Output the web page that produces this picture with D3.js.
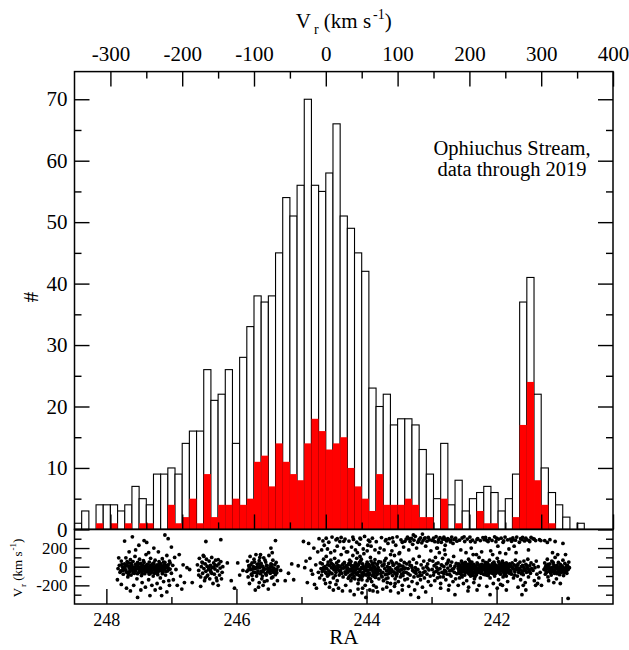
<!DOCTYPE html>
<html>
<head>
<meta charset="utf-8">
<script src="https://cdn.jsdelivr.net/npm/d3@7"></script>
<style>
  body { margin: 0; background: #fff; }
  svg { display: block; }
  text { font-family: "Liberation Serif", "Times New Roman", serif; fill: #000; }
</style>
</head>
<body>
<svg id="chart" width="629" height="650"></svg>
<script>
// Radial-velocity histogram: 10 km/s bins starting at -350 km/s
const binStart = -350;
const binWidth = 10;
const allCounts = [1,3,0,4,4,4,3,4,7,5,4,9,9,10,9,14,16,16,26,21,22,26,14,28,33,38,37,38,45,54,
  51,56,70,56,55,58,66,51,49,45,42,23,20,22,17,18,18,17,13,9,5,14,4,8,3,5,6,7,6,3,
  5,9,37,41,22,10,6,4,2,0,1,0,0,0,0];
const selectedCounts = [0,0,0,1,0,1,0,1,0,1,1,0,0,4,1,2,5,1,9,2,4,4,5,4,5,11,12,7,14,11,
  9,8,14,18,16,13,14,15,10,7,5,3,9,4,4,4,5,4,2,2,0,5,0,1,0,0,3,1,1,0,
  0,2,17,24,8,4,1,0,0,0,0,0,0,0,0];

// Tick values
const vrMajorTicks = [-300,-200,-100,0,100,200,300,400];
const vrMinorTicks = [-250,-150,-50,50,150,250,350];
const countMajorTicks = [0,10,20,30,40,50,60,70];
const countMinorTicks = [5,15,25,35,45,55,65];
const raMajorTicks = [248,246,244,242];
const raMinorTicks = [247,245,243,241];
const lowMajorTicks = [-200,0,200];
const lowMinorTicks = [-300,-100,100,300];

// Individual stars: [RA (deg), Vr (km/s)]
const stars = [
 // RA ~247.8-246.7
 [247.82,-20],[247.80,15],[247.78,-45],[247.77,60],[247.75,-5],[247.74,-80],[247.72,30],[247.71,-30],[247.70,95],[247.69,-60],
 [247.68,10],[247.67,-110],[247.66,40],[247.65,-15],[247.64,-50],[247.63,75],[247.62,-90],[247.61,20],[247.60,-35],[247.59,55],
 [247.58,-5],[247.57,-70],[247.56,110],[247.55,25],[247.54,-25],[247.53,-130],[247.52,45],[247.51,0],[247.50,-60],[247.49,80],
 [247.48,-15],[247.47,35],[247.46,-95],[247.45,-40],[247.44,15],[247.43,65],[247.42,-20],[247.41,-75],[247.40,5],[247.39,130],
 [247.38,-50],[247.37,25],[247.36,-10],[247.35,-140],[247.34,50],[247.33,-30],[247.32,90],[247.31,-65],[247.30,10],[247.29,-5],
 [247.28,-100],[247.27,40],[247.26,-35],[247.25,70],[247.24,-15],[247.23,-55],[247.22,20],[247.21,-85],[247.20,0],[247.19,55],
 [247.18,-40],[247.17,-120],[247.16,30],[247.15,-20],[247.14,85],[247.13,-60],[247.12,10],[247.11,-30],[247.10,45],[247.09,-90],
 [247.08,-5],[247.07,120],[247.06,-45],[247.05,20],[247.04,-150],[247.03,60],[247.02,-25],[247.00,-70],[246.98,15],
 [247.79,-60],[247.76,25],[247.73,-15],[247.70,-40],[247.68,55],[247.66,-85],[247.64,5],[247.62,35],[247.60,-20],[247.58,-50],
 [247.56,-10],[247.54,20],[247.52,-75],[247.50,30],[247.48,-45],[247.46,0],[247.44,-25],[247.42,45],[247.40,-55],[247.38,10],
 [247.36,-30],[247.34,-80],[247.32,15],[247.30,-45],[247.28,25],[247.26,-70],[247.24,5],[247.22,-25],[247.20,-40],[247.18,35],
 [247.16,-10],[247.14,-75],[247.12,50],[247.10,-15],[247.08,-50],[247.06,15],[247.04,-30],[247.02,40],[247.57,-30],[247.47,-5],
 [247.37,-20],[247.27,-5],[247.17,15],[247.63,-35],[247.53,10],[247.43,-35],[247.33,0],[247.23,-10],[247.13,-20],[247.74,-25],
 [247.69,20],[247.59,-65],[247.49,-30],[247.39,-10],[247.29,30],[247.19,-25],[247.09,10],
 [247.75,-40],[247.65,-60],[247.55,-45],[247.45,-70],[247.35,-60],[247.25,-45],[247.15,-45],[247.05,-10],[247.71,5],[247.61,-5],
 [247.51,-20],[247.41,-40],[247.31,-25],[247.21,-60],[247.11,-5],
 [247.83,-140],[247.81,95],[247.77,-190],[247.72,275],[247.69,-230],[247.65,160],[247.63,-260],[247.60,320],[247.58,-200],[247.55,180],
 [247.52,-330],[247.50,230],[247.47,-250],[247.45,-170],[247.42,280],[247.40,-220],[247.38,260],[247.35,150],[247.33,-310],[247.30,-200],
 [247.27,200],[247.25,-250],[247.22,-180],[247.20,160],[247.17,-230],[247.15,-310],[247.12,-160],[247.10,340],[247.07,-270],[247.05,300],
 [247.03,-200],[247.00,210],[246.97,-140],[246.95,100],
 [246.93,-30],[246.91,-200],[246.88,130],[246.86,-100],[246.84,-240],[246.82,20],[246.80,-170],[246.76,-10],[246.72,-30],[246.68,-170],
 // RA ~246.6-246.2
 [246.60,20],[246.58,-40],[246.57,90],[246.55,-110],[246.54,0],[246.53,50],[246.52,-70],[246.51,120],[246.50,-20],[246.49,-150],
 [246.48,30],[246.47,270],[246.47,-50],[246.46,80],[246.45,5],[246.44,-90],[246.43,-30],[246.42,60],[246.41,-130],[246.40,15],
 [246.39,-60],[246.38,100],[246.37,-10],[246.36,-180],[246.35,40],[246.34,-80],[246.33,-25],[246.32,70],[246.31,-120],[246.30,10],
 [246.29,-45],[246.28,-200],[246.27,30],[246.26,-90],[246.25,-15],[246.24,290],[246.24,55],[246.23,-130],[246.22,-60],[246.21,0],
 [246.55,-210],[246.50,110],[246.45,-100],[246.40,-40],[246.35,-5],[246.30,-150],[246.28,75],[246.52,40],[246.42,-10],[246.33,20],
 [246.58,-90],[246.48,-120],[246.38,-70],
 [246.14,40],[246.08,-150],[246.03,-230],[245.98,40],[245.95,-90],[245.90,-40],
 // RA ~245.85-245.35
 [245.84,-50],[245.83,60],[245.82,-110],[245.81,10],[245.80,-180],[245.79,110],[245.78,-30],[245.77,-80],[245.76,40],[245.75,-140],
 [245.74,0],[245.73,80],[245.72,-60],[245.71,-20],[245.70,130],[245.69,-100],[245.68,25],[245.67,-45],[245.66,-220],[245.65,65],
 [245.64,-10],[245.63,-75],[245.62,35],[245.61,-130],[245.60,5],[245.59,-40],[245.58,95],[245.57,-160],[245.56,-25],[245.55,50],
 [245.54,-90],[245.53,15],[245.52,-55],[245.51,-240],[245.50,120],[245.49,-15],[245.48,-70],[245.47,30],[245.46,-120],[245.45,-5],
 [245.44,70],[245.43,-40],[245.42,-190],[245.41,20],[245.40,-85],[245.39,45],[245.38,-30],[245.37,-150],[245.36,0],
 [245.82,-35],[245.78,20],[245.74,-60],[245.70,-10],[245.66,30],[245.62,-50],[245.58,-15],[245.54,10],[245.50,-45],[245.46,25],
 [245.42,-20],[245.38,-65],[245.80,-5],[245.76,-95],[245.72,50],[245.68,-70],[245.64,100],[245.60,-100],[245.56,70],[245.52,-20],
 [245.48,0],[245.44,-110],[245.40,-55],[245.71,-250],[245.65,-170],[245.59,-200],[245.53,-150],[245.47,200],[245.45,150],[245.40,280],
 [245.63,130],[245.75,-25],[245.67,-5],[245.59,-55],[245.51,-30],[245.43,-60],[245.63,10],[245.55,-75],[245.47,-40],
 [245.32,-40],[245.25,-150],[245.20,-70],[245.15,30],[245.12,-140],[245.05,10],
 // RA ~245.0-244.3
 [244.97,270],[244.95,-10],[244.93,60],[244.91,-170],[244.89,250],[244.87,90],[244.85,-40],[244.83,-80],[244.81,200],[244.80,-190],
 [244.78,20],[244.77,-230],[244.75,160],[244.74,-60],[244.73,300],[244.72,-120],[244.71,40],[244.70,-20],
 [244.69,-90],[244.68,30],[244.67,-30],[244.66,80],[244.65,-140],[244.64,0],[244.63,-60],[244.62,110],[244.61,-20],[244.60,-100],
 [244.59,50],[244.58,-45],[244.57,15],[244.56,-170],[244.55,70],[244.54,-10],[244.53,-75],[244.52,25],[244.51,-120],[244.50,-35],
 [244.49,90],[244.48,-5],[244.47,-60],[244.46,40],[244.45,-150],[244.44,-20],[244.43,60],[244.42,-90],[244.41,5],[244.40,-40],
 [244.39,130],[244.38,-70],[244.37,20],[244.36,-110],[244.35,-15],[244.34,45],[244.33,-55],[244.32,-200],[244.31,10],[244.30,-30],
 [244.68,-50],[244.64,-25],[244.60,20],[244.56,-60],[244.52,-15],[244.48,-95],[244.44,15],[244.40,-70],[244.36,30],[244.32,-80],
 [244.66,-10],[244.58,-85],[244.50,10],[244.42,-45],[244.34,-5],[244.62,-70],[244.54,35],[244.46,-30],[244.38,-15],
 [244.69,180],[244.67,276],[244.65,230],[244.62,305],[244.60,190],[244.58,262],[244.55,150],[244.53,318],[244.51,-250],[244.49,170],
 [244.47,288],[244.45,220],[244.43,-230],[244.41,270],[244.39,314],[244.37,-260],[244.35,200],[244.33,296],[244.31,160],[244.57,-220],
 [244.47,-190],[244.63,-180],[244.45,300],[244.35,272],
 // RA ~244.3-243.8
 [244.29,-60],[244.28,20],[244.27,-110],[244.26,70],[244.25,-30],[244.24,-150],[244.23,10],[244.22,-80],[244.21,120],[244.20,-40],
 [244.19,-5],[244.18,-130],[244.17,40],[244.16,-70],[244.15,90],[244.14,-20],[244.13,-180],[244.12,25],[244.11,-95],[244.10,-50],
 [244.09,60],[244.08,-10],[244.07,-140],[244.06,30],[244.05,-65],[244.04,140],[244.03,-25],[244.02,-200],[244.01,5],[244.00,-90],
 [243.99,50],[243.98,-40],[243.97,-120],[243.96,15],[243.95,-75],[243.94,100],[243.93,-15],[243.92,-160],[243.91,35],[243.90,-55],
 [243.89,-5],[243.88,-105],[243.87,75],[243.86,-30],[243.85,-220],[243.84,20],[243.83,-70],[243.82,-10],[243.81,55],
 [244.29,-15],[244.27,35],[244.25,-90],[244.23,-45],[244.21,0],[244.19,-100],[244.17,-35],[244.15,10],[244.13,-60],[244.11,45],
 [244.09,-115],[244.07,-20],[244.05,0],[244.03,-85],[244.01,-40],[243.99,-150],[243.97,25],[243.95,-35],[243.93,60],[243.91,-95],
 [243.89,-45],[243.87,-10],[243.85,-60],[243.83,30],[243.81,-130],
 [244.28,-125],[244.24,55],[244.20,-65],[244.16,-5],[244.12,-140],[244.08,80],[244.04,-55],[244.00,25],[243.96,-90],[243.92,-30],
 [243.88,40],[243.84,-85],[244.26,-45],[244.22,-120],[244.18,20],[244.14,-85],[244.10,110],[244.06,-100],[244.02,-25],[243.98,-70],
 [243.94,-130],[243.90,15],[243.86,-115],
 [244.25,25],[244.19,-55],[244.13,15],[244.07,-75],[244.01,-15],[243.95,5],[243.89,-80],[243.83,-40],[244.22,-10],[244.10,-30],
 [243.98,0],[243.86,-50],
 [244.29,160],[244.27,275],[244.25,-260],[244.23,210],[244.21,318],[244.19,-300],[244.17,180],[244.15,262],[244.13,-240],[244.11,240],
 [244.09,296],[244.07,-280],[244.05,190],[244.03,325],[244.01,-330],[243.99,170],[243.97,284],[243.95,-250],[243.93,220],[243.91,306],
 [243.89,-200],[243.87,180],[243.85,268],[243.83,-270],[243.81,150],[244.14,150],[244.06,-230],[243.98,230],[243.90,-260],[244.20,292],
 [244.10,305],[243.95,270],
 // RA ~243.8-243.4
 [243.79,-40],[243.78,50],[243.77,-100],[243.76,10],[243.75,-60],[243.74,-150],[243.73,30],[243.72,-20],[243.71,-85],[243.70,90],
 [243.69,-45],[243.68,0],[243.67,-120],[243.66,35],[243.65,-70],[243.64,-10],[243.63,-180],[243.62,60],[243.61,-35],[243.60,-95],
 [243.59,15],[243.58,-55],[243.57,120],[243.56,-130],[243.55,-20],[243.54,40],[243.53,-75],[243.52,-5],[243.51,-160],[243.50,25],
 [243.49,-50],[243.48,-110],[243.47,70],[243.46,-30],[243.45,-200],[243.44,5],[243.43,-65],[243.42,45],[243.41,-140],[243.40,-15],
 [243.78,-75],[243.74,15],[243.70,-130],[243.66,-30],[243.62,-60],[243.58,20],[243.54,-100],[243.50,-35],[243.46,-80],[243.42,-25],
 [243.76,-110],[243.72,65],[243.68,-80],[243.64,-45],[243.60,40],[243.56,-70],[243.52,-40],[243.48,10],[243.44,-95],
 [243.79,200],[243.77,312],[243.75,-240],[243.73,180],[243.71,278],[243.69,-220],[243.67,250],[243.65,300],[243.63,-260],[243.61,170],
 [243.59,266],[243.57,-210],[243.55,230],[243.53,320],[243.51,-280],[243.49,150],[243.47,288],[243.45,-250],[243.43,210],[243.41,272],
 [243.63,130],[243.50,140],[243.68,-170],[243.56,-180],[243.70,290],[243.60,310],[243.45,262],
 // RA ~243.4-243.0
 [243.39,-60],[243.38,30],[243.37,-130],[243.36,-20],[243.35,-210],[243.34,50],[243.33,-90],[243.32,-300],[243.31,10],[243.30,-160],
 [243.29,-40],[243.28,80],[243.27,-110],[243.26,-250],[243.25,-10],[243.24,-70],[243.23,40],[243.22,-180],[243.21,-30],[243.20,-330],
 [243.19,110],[243.18,-60],[243.17,-140],[243.16,20],[243.15,-90],[243.14,-220],[243.13,-15],[243.12,60],[243.11,-120],[243.10,-50],
 [243.09,-270],[243.08,0],[243.07,-80],[243.06,30],[243.05,-160],[243.04,-35],[243.03,70],[243.02,-100],[243.01,-200],
 [243.36,-75],[243.30,-10],[243.24,-40],[243.18,-95],[243.12,-60],[243.06,-15],[243.33,15],[243.27,-55],[243.21,-100],
 [243.39,296],[243.37,318],[243.35,180],[243.33,270],[243.31,304],[243.29,240],[243.27,284],[243.25,326],[243.23,200],[243.21,262],
 [243.19,292],[243.17,310],[243.15,256],[243.13,280],[243.11,300],[243.09,220],[243.07,274],[243.05,314],[243.03,288],[243.01,170],
 [243.28,340],[243.14,350],[243.35,300],[243.20,275],[243.10,310],
 // RA ~243.0-242.6
 [242.99,-30],[242.98,60],[242.97,-90],[242.96,10],[242.95,-150],[242.94,100],[242.93,-50],[242.92,-10],[242.91,-120],[242.90,40],
 [242.89,-70],[242.88,150],[242.87,-20],[242.86,-180],[242.85,20],[242.84,-60],[242.83,90],[242.82,-110],[242.81,0],[242.80,-40],
 [242.79,130],[242.78,-140],[242.77,30],[242.76,-80],[242.75,-15],[242.74,70],[242.73,-200],[242.72,-45],[242.71,10],[242.70,-100],
 [242.69,50],[242.68,-25],[242.67,-160],[242.66,110],[242.65,-60],[242.64,5],[242.63,-130],[242.62,35],[242.61,-75],
 [242.96,-60],[242.90,-30],[242.84,15],[242.78,-50],[242.72,-85],[242.66,-20],[242.93,30],[242.87,-110],[242.81,-75],[242.75,45],
 [242.69,-40],
 [242.99,282],[242.97,306],[242.95,268],[242.93,322],[242.91,200],[242.89,290],[242.87,312],[242.85,262],[242.83,296],[242.81,316],
 [242.79,230],[242.77,276],[242.75,302],[242.73,288],[242.71,266],[242.69,318],[242.67,250],[242.65,292],[242.63,306],[242.61,274],
 [242.86,-230],[242.74,-250],[242.64,-300],[242.92,200],[242.80,180],[242.90,265],[242.80,295],[242.70,285],
 // RA ~242.6-242.2
 [242.59,-20],[242.58,30],[242.57,-70],[242.56,10],[242.55,-40],[242.54,60],[242.53,-110],[242.52,-5],[242.51,-55],[242.50,20],
 [242.49,-90],[242.48,45],[242.47,-25],[242.46,-150],[242.45,0],[242.44,-65],[242.43,80],[242.42,-35],[242.41,15],[242.40,-100],
 [242.39,-10],[242.38,50],[242.37,-75],[242.36,-20],[242.35,25],[242.34,-130],[242.33,-45],[242.32,5],[242.31,-85],[242.30,40],
 [242.29,-15],[242.28,-60],[242.27,100],[242.26,-30],[242.25,-120],[242.24,10],[242.23,-50],[242.22,-5],[242.21,65],[242.20,-80],
 [242.58,-45],[242.56,-15],[242.54,-85],[242.52,35],[242.50,-30],[242.48,-60],[242.46,15],[242.44,-10],[242.42,-80],[242.40,30],
 [242.38,-40],[242.36,-95],[242.34,0],[242.32,-25],[242.30,-55],[242.28,20],[242.26,-5],[242.24,-70],[242.22,-35],[242.20,15],
 [242.59,10],[242.55,-5],[242.51,25],[242.47,5],[242.43,-15],[242.39,-50],[242.35,-60],[242.31,-30],[242.27,-45],[242.23,25],
 [242.57,-120],[242.53,40],[242.49,-20],[242.45,-40],[242.41,55],[242.37,-5],[242.33,-105],[242.29,30],[242.25,-25],[242.21,-10],
 [242.48,-5],[242.44,25],[242.40,-60],[242.36,10],[242.32,-70],[242.28,-35],[242.24,-15],[242.52,-40],[242.56,-60],
 [242.59,-200],[242.57,284],[242.55,180],[242.53,308],[242.51,-180],[242.49,270],[242.47,150],[242.45,296],[242.43,-220],[242.41,318],
 [242.39,200],[242.37,286],[242.35,-170],[242.33,264],[242.31,130],[242.29,302],[242.27,-200],[242.25,280],[242.23,160],[242.21,312],
 [242.44,-260],[242.30,-250],[242.36,130],[242.50,320],[242.40,270],[242.30,292],
 // RA ~242.2-241.8
 [242.19,-30],[242.18,20],[242.17,-60],[242.16,5],[242.15,-90],[242.14,40],[242.13,-15],[242.12,-45],[242.11,70],[242.10,-120],
 [242.09,0],[242.08,-35],[242.07,25],[242.06,-70],[242.05,-10],[242.04,50],[242.03,-100],[242.02,-25],[242.01,15],[242.00,-55],
 [241.99,90],[241.98,-5],[241.97,-140],[241.96,30],[241.95,-40],[241.94,-80],[241.93,10],[241.92,-20],[241.91,60],[241.90,-110],
 [241.89,-50],[241.88,20],[241.87,-15],[241.86,-75],[241.85,40],[241.84,-30],[241.83,-160],[241.82,5],[241.81,-60],[241.80,30],
 [242.18,-85],[242.16,-20],[242.14,-5],[242.12,10],[242.10,-40],[242.08,-65],[242.06,35],[242.04,-25],[242.02,-50],[242.00,5],
 [241.98,-30],[241.96,-60],[241.94,15],[241.92,-45],[241.90,-10],[241.88,-90],[241.86,0],[241.84,10],[241.82,-35],[241.80,-70],
 [242.19,15],[242.15,-30],[242.11,-20],[242.07,-45],[242.03,-5],[241.99,-15],[241.95,0],[241.91,-35],[241.87,-55],[241.83,-20],
 [242.17,45],[242.13,-95],[242.09,-60],[242.05,20],[242.01,-70],[241.97,55],[241.93,-40],[241.89,35],[241.85,-100],[241.81,-5],
 [242.20,-10],[242.16,-50],[242.12,-70],[242.08,-10],[242.04,-80],[242.00,-35],[241.96,-10],[241.92,40],[241.88,-30],[241.84,-55],
 [242.15,10],[242.11,-55],[242.07,5],[242.03,30],[241.99,-40],[241.95,-70],[241.91,-5],[241.87,15],[241.83,-45],[242.13,25],
 [242.05,-45],[241.97,-25],[241.89,-65],[242.09,-15],[242.01,-20],[241.93,-10],[241.85,-15],
 [242.19,290],[242.17,314],[242.15,-210],[242.13,270],[242.11,300],[242.09,170],[242.07,282],[242.05,-180],[242.03,320],[242.01,268],
 [241.99,-230],[241.97,296],[241.95,150],[241.93,306],[241.91,-200],[241.89,276],[241.87,318],[241.85,-250],[241.83,288],[241.81,190],
 [242.10,-300],[241.94,-190],[242.06,130],[241.86,140],[241.98,220],[242.15,280],[242.00,305],[241.90,262],
 // RA ~241.8-241.3
 [241.79,-40],[241.78,10],[241.77,-80],[241.76,40],[241.75,-15],[241.74,-120],[241.73,20],[241.72,-55],[241.71,70],[241.70,-30],
 [241.69,-5],[241.68,-100],[241.67,30],[241.66,-60],[241.65,-20],[241.64,50],[241.63,-140],[241.62,0],[241.61,-45],[241.60,15],
 [241.59,-85],[241.58,60],[241.57,-25],[241.56,-170],[241.55,25],[241.54,-60],[241.53,-10],[241.52,80],[241.51,-110],[241.50,-35],
 [241.49,10],[241.48,-70],[241.47,40],[241.46,-20],
 [241.78,-55],[241.74,-25],[241.70,5],[241.66,-35],[241.62,-75],[241.58,-10],[241.54,15],[241.50,-50],[241.76,-5],[241.72,-90],
 [241.68,15],[241.64,-30],[241.60,-50],[241.56,-40],[241.52,-20],
 [241.79,296],[241.77,272],[241.75,310],[241.73,220],[241.71,284],[241.69,318],[241.67,-220],[241.65,262],[241.63,300],[241.61,290],
 [241.59,-200],[241.57,276],[241.55,306],[241.53,288],[241.51,180],[241.49,270],[241.47,314],[241.61,-300],[241.70,150],[241.55,-250],
 [241.75,290],[241.60,315],[241.50,280],[241.42,295],
 [241.44,-40],[241.43,20],[241.42,-150],[241.41,-10],[241.40,-200],[241.39,60],[241.38,-80],[241.37,-180],[241.36,0],[241.35,-120],
 [241.34,290],[241.33,-60],[241.32,280],[241.31,-200],[241.44,300],[241.40,280],
 // RA ~241.3-240.85
 [241.27,-30],[241.26,40],[241.25,-80],[241.24,10],[241.23,-20],[241.22,80],[241.21,-110],[241.20,0],[241.19,-50],[241.18,30],
 [241.17,-15],[241.16,-90],[241.15,60],[241.14,-40],[241.13,-5],[241.12,20],[241.11,-70],[241.10,100],[241.09,-25],[241.08,-130],
 [241.07,15],[241.06,-55],[241.05,45],[241.04,-10],[241.03,-85],[241.02,25],[241.01,-35],[241.00,-60],[240.99,5],[240.98,70],
 [240.97,-95],[240.96,-20],[240.95,35],[240.94,-45],[240.93,0],[240.92,-70],[240.91,15],[240.90,-30],[240.89,50],[240.88,-10],
 [241.25,-5],[241.21,25],[241.17,-65],[241.13,45],[241.09,5],[241.05,-25],[241.01,10],[240.97,-15],[240.93,-50],[241.23,-60],
 [241.19,-30],[241.15,-10],[241.11,-40],[241.07,-75],[241.03,-20],[240.99,-40],
 [241.24,-45],[241.16,-30],[241.08,-10],[241.00,-15],[240.92,-20],[241.20,20],[241.12,-60],[241.04,-50],[240.96,-60],
 [241.26,280],[241.22,260],[241.18,290],[241.14,150],[241.10,270],[241.06,130],[241.02,-180],[240.98,250],[241.20,-150],[241.12,-170],
 [240.90,-340],[240.94,130]
];

// ---- layout ----
const svg = d3.select("#chart");
const frameL = 74.5, frameR = 613;
const frameT = 71.6, frameM = 529.4, frameB = 604;
const serif = '"Liberation Serif", "Times New Roman", serif';

const xVr = d3.scaleLinear().domain([-350, 400]).range([frameL, frameR]);
const yCount = d3.scaleLinear().domain([0, 74.5]).range([frameM, frameT]);
const xRA = d3.scaleLinear().domain([248.49, 240.21]).range([frameL, frameR]);
const yVr = d3.scaleLinear().domain([-400, 400]).range([frameB, frameM]);

svg.append("rect").attr("width", 629).attr("height", 650).attr("fill", "#fff");

// ---- histogram ----
const bins = allCounts.map((n, i) => ({
  x0: binStart + i * binWidth,
  x1: binStart + (i + 1) * binWidth,
  n,
  sel: selectedCounts[i]
}));

svg.append("g")
  .selectAll("rect")
  .data(bins.filter(d => d.n > 0))
  .join("rect")
  .attr("x", d => xVr(d.x0))
  .attr("width", d => xVr(d.x1) - xVr(d.x0))
  .attr("y", d => yCount(d.n))
  .attr("height", d => yCount(0) - yCount(d.n))
  .attr("fill", "#fff")
  .attr("stroke", "#000")
  .attr("stroke-width", 1.1);

svg.append("g")
  .selectAll("rect")
  .data(bins.filter(d => d.sel > 0))
  .join("rect")
  .attr("x", d => xVr(d.x0))
  .attr("width", d => xVr(d.x1) - xVr(d.x0))
  .attr("y", d => yCount(d.sel))
  .attr("height", d => yCount(0) - yCount(d.sel))
  .attr("fill", "#ff0000");

// ---- scatter ----
svg.append("g")
  .selectAll("circle")
  .data(stars)
  .join("circle")
  .attr("cx", d => xRA(d[0]))
  .attr("cy", d => yVr(d[1]))
  .attr("r", 1.9)
  .attr("fill", "#000");

// ---- axes ----
function styleAxis(g, fontSize) {
  g.select(".domain").remove();
  g.attr("font-family", serif).attr("font-size", fontSize);
  g.selectAll(".tick line").attr("stroke", "#000").attr("stroke-width", 1.4);
  g.selectAll(".tick text").attr("fill", "#000");
}
const fmt = d => String(d);

// top: radial velocity
svg.append("g").attr("transform", `translate(0,${frameT})`)
  .call(d3.axisTop(xVr).tickValues(vrMajorTicks).tickSize(-15).tickPadding(10.5).tickFormat(fmt))
  .call(g => styleAxis(g, 21));
svg.append("g").attr("transform", `translate(0,${frameT})`)
  .call(d3.axisTop(xVr).tickValues(vrMinorTicks).tickSize(-7).tickFormat(""))
  .call(g => styleAxis(g, 21));
// bottom of histogram: radial velocity ticks pointing up
svg.append("g").attr("transform", `translate(0,${frameM})`)
  .call(d3.axisBottom(xVr).tickValues(vrMajorTicks).tickSize(-15).tickFormat(""))
  .call(g => styleAxis(g, 21));
svg.append("g").attr("transform", `translate(0,${frameM})`)
  .call(d3.axisBottom(xVr).tickValues(vrMinorTicks).tickSize(-7).tickFormat(""))
  .call(g => styleAxis(g, 21));

// counts, left and right
svg.append("g").attr("transform", `translate(${frameL},0)`)
  .call(d3.axisLeft(yCount).tickValues(countMajorTicks).tickSize(-15).tickPadding(7).tickFormat(fmt))
  .call(g => styleAxis(g, 21));
svg.append("g").attr("transform", `translate(${frameL},0)`)
  .call(d3.axisLeft(yCount).tickValues(countMinorTicks).tickSize(-7).tickFormat(""))
  .call(g => styleAxis(g, 21));
svg.append("g").attr("transform", `translate(${frameR},0)`)
  .call(d3.axisRight(yCount).tickValues(countMajorTicks).tickSize(-15).tickFormat(""))
  .call(g => styleAxis(g, 21));
svg.append("g").attr("transform", `translate(${frameR},0)`)
  .call(d3.axisRight(yCount).tickValues(countMinorTicks).tickSize(-7).tickFormat(""))
  .call(g => styleAxis(g, 21));

// lower panel: Vr vs RA
svg.append("g").attr("transform", `translate(${frameL},0)`)
  .call(d3.axisLeft(yVr).tickValues(lowMajorTicks).tickSize(-15).tickPadding(7).tickFormat(fmt))
  .call(g => styleAxis(g, 17));
svg.append("g").attr("transform", `translate(${frameL},0)`)
  .call(d3.axisLeft(yVr).tickValues(lowMinorTicks).tickSize(-7).tickFormat(""))
  .call(g => styleAxis(g, 17));
svg.append("g").attr("transform", `translate(${frameR},0)`)
  .call(d3.axisRight(yVr).tickValues(lowMajorTicks).tickSize(-15).tickFormat(""))
  .call(g => styleAxis(g, 17));
svg.append("g").attr("transform", `translate(${frameR},0)`)
  .call(d3.axisRight(yVr).tickValues(lowMinorTicks).tickSize(-7).tickFormat(""))
  .call(g => styleAxis(g, 17));
svg.append("g").attr("transform", `translate(0,${frameB})`)
  .call(d3.axisBottom(xRA).tickValues(raMajorTicks).tickSize(-15).tickPadding(9).tickFormat(fmt))
  .call(g => styleAxis(g, 18));
svg.append("g").attr("transform", `translate(0,${frameB})`)
  .call(d3.axisBottom(xRA).tickValues(raMinorTicks).tickSize(-7).tickFormat(""))
  .call(g => styleAxis(g, 18));

// frames
const frame = svg.append("g").attr("fill", "none").attr("stroke", "#000").attr("stroke-width", 1.5);
frame.append("rect").attr("x", frameL).attr("y", frameT).attr("width", frameR - frameL).attr("height", frameM - frameT);
frame.append("rect").attr("x", frameL).attr("y", frameM).attr("width", frameR - frameL).attr("height", frameB - frameM);

// ---- labels ----
const title = svg.append("text")
  .attr("x", (frameL + frameR) / 2).attr("y", 28)
  .attr("text-anchor", "middle").attr("font-size", 21);
title.append("tspan").text("V");
title.append("tspan").attr("dx", 3).attr("dy", 6).attr("font-size", 14).text("r");
title.append("tspan").attr("dy", -6).text(" (km s");
title.append("tspan").attr("dx", 2).attr("dy", -9).attr("font-size", 14).text("-1");
title.append("tspan").attr("dy", 9).text(")");

svg.append("text")
  .attr("transform", "translate(38,297) rotate(-90)")
  .attr("text-anchor", "middle").attr("font-size", 21).text("#");

svg.append("text")
  .attr("x", (frameL + frameR) / 2).attr("y", 644)
  .attr("text-anchor", "middle").attr("font-size", 21).text("RA");

const lowLabel = svg.append("text")
  .attr("transform", "translate(22,568) rotate(-90)")
  .attr("text-anchor", "middle").attr("font-size", 13);
lowLabel.append("tspan").text("V");
lowLabel.append("tspan").attr("dx", 1).attr("dy", 4).attr("font-size", 9).text("r");
lowLabel.append("tspan").attr("dy", -4).text(" (km s");
lowLabel.append("tspan").attr("dx", 1).attr("dy", -6).attr("font-size", 9).text("-1");
lowLabel.append("tspan").attr("dy", 6).text(")");

const note = svg.append("text").attr("text-anchor", "middle").attr("font-size", 20.5);
note.append("tspan").attr("x", 512).attr("y", 155).text("Ophiuchus Stream,");
note.append("tspan").attr("x", 512).attr("y", 176).text("data through 2019");
</script>
</body>
</html>
